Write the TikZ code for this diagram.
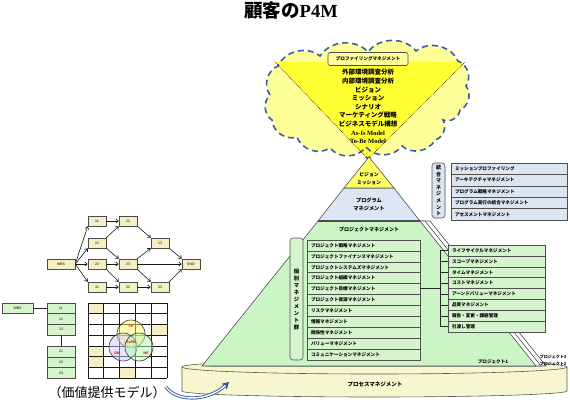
\documentclass[tikz,border=0pt]{standalone}
\usepackage{fontspec}
\setmainfont{Liberation Serif}
\newfontfamily\jp{Noto Sans CJK JP}
\newfontfamily\lsans{Liberation Sans}
\usetikzlibrary{arrows.meta}
\definecolor{cloudY}{HTML}{FFFF99}
\definecolor{triY}{HTML}{FFFF33}
\definecolor{cloudB}{HTML}{3B5EA8}
\definecolor{pyrY}{HTML}{FFFF66}
\definecolor{pyrB}{HTML}{DCE6F4}
\definecolor{pyrG}{HTML}{CCF5C6}
\definecolor{boxG}{HTML}{D6F5CE}
\definecolor{boxB}{HTML}{DCE6F2}
\definecolor{netY}{HTML}{F5F0C4}
\definecolor{cylY}{HTML}{F8F6CF}
\definecolor{lineG}{HTML}{505050}
\definecolor{arrB}{HTML}{2F5597}
\begin{document}
\begin{tikzpicture}[x=1pt,y=-1pt,
  jps/.style={font=\jp\bfseries\fontsize{4.6}{5.5}\selectfont},
  lbox/.style={jps, draw=lineG, line width=0.6pt, fill=boxG, minimum height=10.9pt, inner ysep=0pt, inner xsep=4pt, text width=105pt, align=left},
  rbox/.style={lbox, text width=89pt},
  bbox/.style={lbox, fill=boxB, minimum height=11.4pt, text width=108pt},
  vbox/.style={draw=lineG, line width=0.6pt, rounded corners=3pt, inner sep=0pt, align=center},
  nbox/.style={draw=gray!60!black, line width=0.5pt, fill=netY, minimum width=18pt, minimum height=10pt, inner sep=0pt, font=\lsans\fontsize{3.5}{4}\selectfont},
  tbox/.style={nbox, fill=boxG, minimum width=28pt, minimum height=10.7pt},
  netarr/.style={draw=gray!20!black, line width=0.6pt, -{Straight Barb[length=2.5pt,width=4pt]}},
  plain/.style={draw=gray!30!black, line width=0.6pt},
  vl/.style={font=\bfseries\lsans\fontsize{3.6}{4}\selectfont, text=red, inner sep=0pt},
  bl/.style={bend left=52}
]
\useasboundingbox (0,0) rectangle (570,404);

% title
\node (title) at (291,10) {{\jp\bfseries\fontsize{18.5}{20}\selectfont 顧客の}{\bfseries\fontsize{18.5}{20}\selectfont P4M}};

% cloud
\def\cloudpath{(270,95) to[bl] (278,66) to[bl] (320,56) to[bl] (368,52) to[bl] (416,51) to[bl] (458,61) to[bl] (466,86) to[bl] (460,110) to[bl] (443,120) to[bl] (435,140) to[bl] (402,146) to[bl] (366,147) to[bl] (330,148) to[bl] (297,137) to[bl] (272,120) to[bl] (270,95) -- cycle}
\fill[cloudY] \cloudpath;
\coordinate (tl) at (275,62);
\coordinate (tr) at (465,62);
\coordinate (apx) at (368,159);
\fill[triY] (tl) -- (tr) -- (apx) -- cycle;
\draw[draw=cloudB, line width=1.6pt, dash pattern=on 6pt off 4pt] \cloudpath;
\draw[densely dotted, line width=0.6pt, -{Stealth[length=3pt]}] (tl) -- (apx);
\draw[densely dotted, line width=0.6pt, -{Stealth[length=3pt]}] (tr) -- (apx);
\node[draw=black!70, line width=0.6pt, fill=cloudY, rounded corners=2pt, minimum width=80pt, minimum height=13pt, inner sep=0pt, jps] (prof) at (368,59) {プロファイリングマネジメント};
\node[align=center, font=\jp\bfseries\fontsize{6.5}{8.6}\selectfont] (ctext) at (368,106.5)
 {外部環境調査分析\\内部環境調査分析\\ビジョン\\ミッション\\シナリオ\\マーケティング戦略\\ビジネスモデル構想\\{\rmfamily\bfseries As-Is Model}\\{\rmfamily\bfseries To-Be Model}};

% cylinder (process management)
\filldraw[fill=cylY, draw=gray!70!black, line width=0.6pt] (182,367) -- (182,391)
  arc[start angle=180, end angle=360, x radius=192.5pt, y radius=6pt] -- (567,367)
  arc[start angle=0, end angle=180, x radius=192.5pt, y radius=7pt] -- cycle;
\draw[gray!70!black, line width=0.6pt] (182,367) arc[start angle=180, end angle=360, x radius=192.5pt, y radius=7pt];
\node[jps, font=\jp\bfseries\fontsize{5.5}{6}\selectfont] (proc) at (375,384) {プロセスマネジメント};

% stacked project pyramids behind
\filldraw[fill=white, draw=lineG, line width=0.6pt] (328,221) -- (430,221) -- (546,366) -- (212,366) -- cycle;
\filldraw[fill=white, draw=lineG, line width=0.6pt] (323,221) -- (425,221) -- (541,366) -- (207,366) -- cycle;
% main pyramid
\filldraw[fill=pyrG, draw=lineG, line width=0.6pt] (318,221) -- (420,221) -- (536,366) -- (202,366) -- cycle;
\filldraw[fill=pyrB, draw=lineG, line width=0.6pt] (344,188) -- (394,188) -- (420,221) -- (318,221) -- cycle;
\filldraw[fill=pyrY, draw=lineG, line width=0.6pt] (369,157) -- (394,188) -- (344,188) -- cycle;
\draw[line width=1.3pt, gray!60!black] (318,221) -- (420,221);

\node[jps, align=center, font=\jp\bfseries\fontsize{4.8}{8}\selectfont] (vis) at (369,179) {ビジョン\\ミッション};
\node[jps, align=center, font=\jp\bfseries\fontsize{5.2}{8}\selectfont] (prg) at (369,204) {プログラム\\マネジメント};
\node[jps, font=\jp\bfseries\fontsize{5}{6}\selectfont] (pjh) at (369,230) {プロジェクトマネジメント};

\node[jps] (p1) at (493,362) {プロジェクト1};
\node[jps, font=\jp\bfseries\fontsize{4}{5}\selectfont] (p3) at (553,357) {プロジェクト3};
\node[jps, font=\jp\bfseries\fontsize{4}{5}\selectfont] (p2) at (553,364) {プロジェクト2};

% integrated management (blue)
\node[vbox, fill=boxB, minimum width=13pt, minimum height=55pt, font=\jp\bfseries\fontsize{5}{6.6}\selectfont] (tg) at (438.5,190.5) {統\\合\\マ\\ネ\\ジ\\メ\\ン\\ト};
\foreach \t [count=\i] in {ミッションプロファイリング, アーキテクチャマネジメント, プログラム戦略マネジメント, プログラム実行の統合マネジメント, アセスメントマネジメント}
  \node[bbox] (bl\i) at (509,{168.7+11.4*(\i-1)}) {\t};

% individual management group
\node[vbox, fill=boxG, minimum width=13pt, minimum height=122pt, font=\jp\bfseries\fontsize{5.3}{7}\selectfont] (kb) at (296.5,299) {個\\別\\マ\\ネ\\ジ\\メ\\ン\\ト\\群};
\foreach \t [count=\i] in {プロジェクト戦略マネジメント, プロジェクトファイナンスマネジメント, プロジェクトシステムズマネジメント, プロジェクト組織マネジメント, プロジェクト目標マネジメント, プロジェクト資源マネジメント, リスクマネジメント, 情報マネジメント, 関係性マネジメント, バリューマネジメント, コミュニケーションマネジメント}
  \node[lbox] (ll\i) at (363.5,{245.45+10.9*(\i-1)}) {\t};
\foreach \t [count=\i] in {ライフサイクルマネジメント, スコープマネジメント, タイムマネジメント, コストマネジメント, アーンドバリューマネジメント, 品質マネジメント, 報告・変更・課題管理, 引渡し管理}
  \node[rbox] (rl\i) at (496.5,{250.45+10.9*(\i-1)}) {\t};
\coordinate (bx) at (440,288);
\draw[plain] (ll5.east |- bx) -- (bx);
\draw[plain] (rl1.west -| bx) -- (rl8.west -| bx);
\foreach \i in {1,...,8} \draw[plain] (rl\i.west -| bx) -- (rl\i.west);

% network diagram
\node[nbox, minimum width=28pt] (wbs) at (61,264) {WBS};
\node[nbox] (n11) at (97,221) {11};
\node[nbox] (n12) at (128,221) {12};
\node[nbox] (n21) at (97,243) {21};
\node[nbox] (n13) at (160,243) {13};
\node[nbox] (n22) at (97,264) {22};
\node[nbox] (n23) at (128,264) {23};
\node[nbox] (nend) at (191,264) {END};
\node[nbox] (n31) at (97,287) {31};
\node[nbox] (n32) at (128,287) {32};
\node[nbox] (n33) at (160,287) {33};
\draw[netarr] (wbs.east) -- (n11.south west);
\draw[netarr] (wbs.east) -- (n21.south west);
\draw[netarr] (wbs.east) -- (n22.west);
\draw[netarr] (wbs.east) -- (n31.north west);
\draw[netarr] (n11) -- (n12);
\draw[netarr] (n21.north east) -- (n12.south west);
\draw[netarr] (n21.south east) -- (n23.north west);
\draw[netarr] (n22) -- (n23);
\draw[netarr] (n22.south east) -- (n32.north west);
\draw[netarr] (n31) -- (n32);
\draw[netarr] (n32) -- (n33);
\draw[netarr] (n12.south east) -- (n13.north west);
\draw[netarr] (n23.north east) -- (n13.south west);
\draw[netarr] (n23.south east) -- (n33.north west);
\draw[netarr] (n23) -- (nend);
\draw[netarr] (n13.south east) -- (nend.north west);
\draw[netarr] (n33.north east) -- (nend.south west);

% WBS tree
\node[tbox, minimum width=31pt] (tw) at (17.5,308.35) {WBS};
\node[tbox] (t11) at (61,308.35) {11};
\node[tbox] (t12) at (61,319.05) {12};
\node[tbox] (t13) at (61,329.75) {13};
\node[tbox] (t21) at (61,351.65) {21};
\node[tbox] (t22) at (61,362.35) {22};
\node[tbox] (t23) at (61,373.05) {23};
\draw[plain] (tw) -- (t11);
\draw[plain] (t13) -- (t21);

% grid with venn
\foreach \c/\r in {0/0, 4/2, 0/4, 0/5, 2/6}
  \fill[netY] ({88+15.8*\c},{303+10.714*\r}) rectangle ++(15.8,10.714);
\foreach \c in {0,...,5} \draw[gray!20!black, line width=0.7pt] ({88+15.8*\c},303) -- ++(0,75);
\foreach \r in {0,...,7} \draw[gray!20!black, line width=0.7pt] (88,{303+10.714*\r}) -- ++(79,0);
\node[circle, draw=black!80, line width=0.6pt, fill=yellow!60, fill opacity=0.5, draw opacity=1, minimum size=28pt, inner sep=0pt] (ce) at (131,334) {};
\node[circle, draw=black!80, line width=0.6pt, fill=blue!20, fill opacity=0.5, draw opacity=1, minimum size=28pt, inner sep=0pt] (om) at (123,347) {};
\node[circle, draw=black!80, line width=0.6pt, fill=green!30, fill opacity=0.5, draw opacity=1, minimum size=28pt, inner sep=0pt] (me) at (139,347) {};
\node[vl] (lce) at (131,326) {CE};
\node[vl] (lsv) at (131,342) {SvEM};
\node[vl] (lom) at (117,353) {OM};
\node[vl] (lme) at (146,353) {ME};

% value model label and arrow
\node[font=\jp\fontsize{13}{14}\selectfont, inner sep=0pt] (vm) at (107,393) {（価値提供モデル）};
\coordinate (cylin) at (229,382);
\draw[draw=arrB, line width=0.9pt, double=white, double distance=1.4pt, -{Stealth[length=7pt,width=8pt]}]
  (vm.north east) .. controls (176,402) and (208,402) .. (cylin);
\end{tikzpicture}
\end{document}
